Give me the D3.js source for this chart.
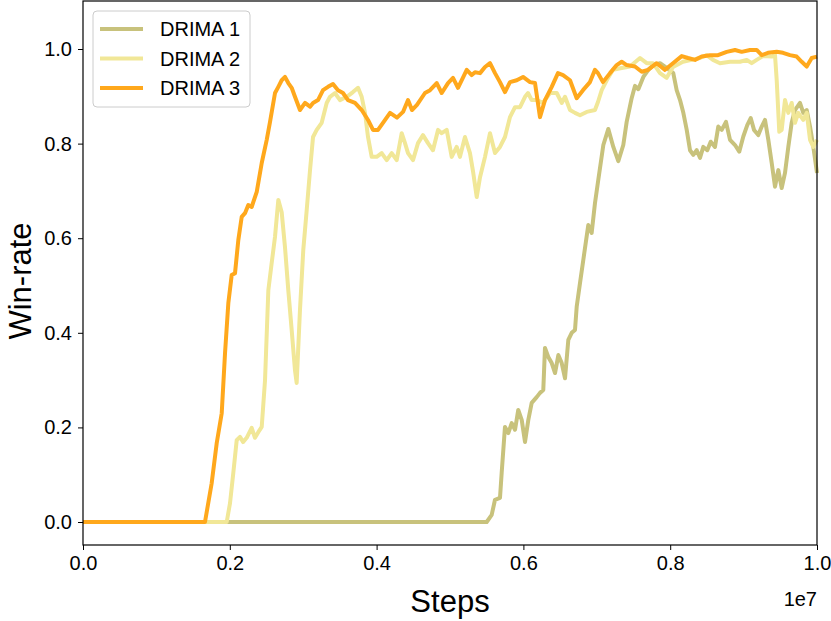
<!DOCTYPE html>
<html>
<head>
<meta charset="utf-8">
<script src="https://cdn.jsdelivr.net/npm/d3@7"></script>
<style>
  body { margin: 0; background: #fff; }
  text { font-family: "Liberation Sans", Arial, sans-serif; fill: #000; }
</style>
</head>
<body>
<div id="chart"></div>
<script>
// frame size
const FRAME_WIDTH = 831;
const FRAME_HEIGHT = 621;
const MARGINS = {left: 83, right: 14, top: 1, bottom: 76};
const VIS_WIDTH = FRAME_WIDTH - MARGINS.left - MARGINS.right;
const VIS_HEIGHT = FRAME_HEIGHT - MARGINS.top - MARGINS.bottom;

// data: steps in millions, win-rate
const seriesNames = ["DRIMA 1", "DRIMA 2", "DRIMA 3"];
const seriesColors = ["#c8c27c", "#f1e797", "#ffa81c"];

const drima1Steps = [0, 5.500, 5.568, 5.613, 5.681, 5.704, 5.749, 5.794, 5.841, 5.886, 5.930, 5.977, 6.022, 6.067, 6.113, 6.181, 6.226, 6.271, 6.294, 6.339, 6.386, 6.431, 6.476, 6.522, 6.567, 6.612, 6.658, 6.703, 6.726, 6.771, 6.816, 6.884, 6.930, 6.975, 7.020, 7.089, 7.157, 7.225, 7.293, 7.361, 7.407, 7.475, 7.520, 7.566, 7.634, 7.702, 7.770, 7.861, 7.952, 8.042, 8.088, 8.134, 8.179, 8.225, 8.270, 8.315, 8.361, 8.406, 8.451, 8.505, 8.552, 8.610, 8.655, 8.702, 8.760, 8.815, 8.883, 8.941, 8.996, 9.050, 9.097, 9.142, 9.200, 9.247, 9.292, 9.337, 9.383, 9.428, 9.473, 9.519, 9.564, 9.609, 9.655, 9.700, 9.768, 9.813, 9.860, 9.905, 9.950, 10.0];
const drima1Rate = [0, 0, 0.015, 0.047, 0.051, 0.104, 0.201, 0.188, 0.209, 0.195, 0.237, 0.216, 0.169, 0.216, 0.252, 0.264, 0.273, 0.279, 0.368, 0.349, 0.336, 0.315, 0.353, 0.336, 0.304, 0.385, 0.400, 0.406, 0.455, 0.505, 0.554, 0.628, 0.611, 0.674, 0.723, 0.797, 0.831, 0.793, 0.763, 0.797, 0.846, 0.896, 0.922, 0.915, 0.941, 0.956, 0.966, 0.970, 0.960, 0.949, 0.913, 0.892, 0.865, 0.829, 0.786, 0.776, 0.786, 0.770, 0.793, 0.786, 0.804, 0.793, 0.836, 0.829, 0.846, 0.808, 0.797, 0.783, 0.815, 0.839, 0.854, 0.829, 0.818, 0.836, 0.850, 0.808, 0.759, 0.709, 0.744, 0.706, 0.738, 0.793, 0.844, 0.871, 0.886, 0.865, 0.871, 0.836, 0.793, 0.738];

const drima2Steps = [0, 1.958, 2.003, 2.048, 2.094, 2.139, 2.180, 2.230, 2.298, 2.343, 2.388, 2.435, 2.480, 2.525, 2.571, 2.616, 2.661, 2.707, 2.752, 2.797, 2.843, 2.888, 2.911, 2.956, 3.001, 3.048, 3.093, 3.134, 3.184, 3.252, 3.320, 3.365, 3.433, 3.501, 3.593, 3.678, 3.747, 3.797, 3.842, 3.883, 3.933, 4.001, 4.069, 4.138, 4.206, 4.274, 4.342, 4.387, 4.428, 4.496, 4.564, 4.632, 4.700, 4.768, 4.837, 4.887, 4.955, 5.023, 5.091, 5.136, 5.204, 5.272, 5.317, 5.364, 5.409, 5.477, 5.545, 5.613, 5.681, 5.749, 5.817, 5.886, 5.954, 6.022, 6.063, 6.113, 6.181, 6.267, 6.362, 6.454, 6.522, 6.567, 6.635, 6.703, 6.771, 6.862, 6.975, 7.016, 7.067, 7.135, 7.221, 7.339, 7.452, 7.589, 7.680, 7.766, 7.861, 7.952, 8.038, 8.174, 8.293, 8.406, 8.497, 8.583, 8.678, 8.815, 8.951, 9.042, 9.110, 9.178, 9.264, 9.383, 9.428, 9.451, 9.486, 9.519, 9.564, 9.609, 9.655, 9.700, 9.745, 9.813, 9.860, 9.905, 9.950, 10.0];
const drima2Rate = [0, 0, 0.040, 0.104, 0.173, 0.180, 0.169, 0.178, 0.199, 0.178, 0.190, 0.201, 0.300, 0.490, 0.548, 0.603, 0.681, 0.655, 0.581, 0.490, 0.406, 0.321, 0.294, 0.448, 0.575, 0.660, 0.744, 0.814, 0.829, 0.844, 0.886, 0.899, 0.907, 0.892, 0.899, 0.909, 0.918, 0.899, 0.865, 0.814, 0.772, 0.772, 0.780, 0.765, 0.780, 0.765, 0.822, 0.801, 0.780, 0.765, 0.801, 0.818, 0.801, 0.786, 0.829, 0.822, 0.829, 0.772, 0.793, 0.772, 0.814, 0.780, 0.738, 0.687, 0.729, 0.772, 0.822, 0.780, 0.793, 0.814, 0.856, 0.877, 0.877, 0.899, 0.907, 0.892, 0.892, 0.886, 0.907, 0.907, 0.886, 0.899, 0.871, 0.865, 0.860, 0.867, 0.871, 0.888, 0.913, 0.934, 0.956, 0.960, 0.963, 0.981, 0.970, 0.970, 0.949, 0.939, 0.962, 0.973, 0.977, 0.981, 0.987, 0.977, 0.970, 0.973, 0.973, 0.977, 0.970, 0.977, 0.985, 0.984, 0.987, 0.934, 0.825, 0.829, 0.892, 0.865, 0.886, 0.844, 0.865, 0.850, 0.865, 0.808, 0.793, 0.808];

const drima3Steps = [0, 1.662, 1.753, 1.822, 1.890, 1.935, 1.980, 2.026, 2.071, 2.116, 2.162, 2.207, 2.252, 2.298, 2.367, 2.435, 2.503, 2.548, 2.616, 2.661, 2.707, 2.752, 2.797, 2.843, 2.888, 2.956, 3.025, 3.093, 3.134, 3.202, 3.270, 3.338, 3.406, 3.474, 3.542, 3.610, 3.706, 3.797, 3.883, 3.951, 4.019, 4.087, 4.183, 4.278, 4.360, 4.428, 4.482, 4.550, 4.659, 4.728, 4.819, 4.887, 4.973, 5.041, 5.109, 5.228, 5.296, 5.341, 5.409, 5.477, 5.545, 5.613, 5.681, 5.749, 5.817, 5.909, 5.995, 6.090, 6.158, 6.226, 6.294, 6.386, 6.471, 6.540, 6.635, 6.726, 6.812, 6.907, 6.975, 7.016, 7.084, 7.180, 7.271, 7.339, 7.407, 7.520, 7.612, 7.698, 7.816, 7.929, 8.038, 8.157, 8.243, 8.338, 8.429, 8.542, 8.651, 8.770, 8.883, 8.974, 9.087, 9.178, 9.247, 9.332, 9.451, 9.537, 9.632, 9.723, 9.792, 9.860, 9.928, 10.0];
const drima3Rate = [0, 0, 0.082, 0.167, 0.230, 0.357, 0.463, 0.522, 0.526, 0.596, 0.645, 0.653, 0.670, 0.666, 0.698, 0.759, 0.808, 0.846, 0.907, 0.920, 0.934, 0.941, 0.928, 0.918, 0.899, 0.871, 0.886, 0.878, 0.886, 0.892, 0.913, 0.920, 0.926, 0.913, 0.907, 0.892, 0.886, 0.871, 0.850, 0.829, 0.829, 0.844, 0.865, 0.855, 0.867, 0.892, 0.871, 0.882, 0.907, 0.913, 0.928, 0.907, 0.928, 0.939, 0.918, 0.956, 0.945, 0.951, 0.949, 0.962, 0.970, 0.949, 0.930, 0.909, 0.930, 0.934, 0.941, 0.930, 0.928, 0.856, 0.892, 0.920, 0.949, 0.945, 0.934, 0.896, 0.913, 0.930, 0.956, 0.949, 0.930, 0.949, 0.966, 0.973, 0.966, 0.963, 0.952, 0.956, 0.970, 0.956, 0.970, 0.985, 0.981, 0.977, 0.984, 0.987, 0.987, 0.994, 0.998, 0.994, 0.998, 0.998, 0.987, 0.992, 0.994, 0.992, 0.987, 0.984, 0.973, 0.963, 0.981, 0.984];

const xTicks = [0, 0.2, 0.4, 0.6, 0.8, 1.0];
const yTicks = [0, 0.2, 0.4, 0.6, 0.8, 1.0];

const allSteps = [drima1Steps, drima2Steps, drima3Steps];
const allRates = [drima1Rate, drima2Rate, drima3Rate];

const FRAME = d3.select("#chart")
                .append("svg")
                  .attr("width", FRAME_WIDTH)
                  .attr("height", FRAME_HEIGHT);

const x = d3.scaleLinear()
            .domain([0, 1e7])
            .range([MARGINS.left, MARGINS.left + VIS_WIDTH]);

const y = d3.scaleLinear()
            .domain([-0.0486, 1.1015])
            .range([MARGINS.top + VIS_HEIGHT, MARGINS.top]);

// lines, drawn in legend order so DRIMA 3 sits on top
const line = d3.line()
               .x((d) => x(d[0] * 1e6))
               .y((d) => y(d[1]));

allSteps.forEach((steps, i) => {
  const pts = steps.map((s, j) => [s, allRates[i][j]]);
  FRAME.append("path")
       .datum(pts)
       .attr("fill", "none")
       .attr("stroke", seriesColors[i])
       .attr("stroke-width", 4)
       .attr("stroke-linejoin", "round")
       .attr("d", line);
});

// axes
const xAxis = FRAME.append("g")
     .attr("transform", "translate(0," + (MARGINS.top + VIS_HEIGHT) + ")")
     .call(d3.axisBottom(x).tickValues(xTicks.map((t) => t * 1e7))
             .tickFormat((d) => (d / 1e7).toFixed(1))
             .tickSize(5).tickPadding(6));

const yAxis = FRAME.append("g")
     .attr("transform", "translate(" + MARGINS.left + ",0)")
     .call(d3.axisLeft(y).tickValues(yTicks)
             .tickFormat((d) => d.toFixed(1))
             .tickSize(5).tickPadding(6));

[xAxis, yAxis].forEach((g) => {
  g.select(".domain").remove();
  g.selectAll("line").attr("stroke", "#000").attr("stroke-width", 1);
  g.selectAll("text").attr("font-size", 20).attr("font-family", "Liberation Sans, Arial, sans-serif");
});

// frame box
FRAME.append("rect")
     .attr("x", MARGINS.left)
     .attr("y", MARGINS.top)
     .attr("width", VIS_WIDTH)
     .attr("height", VIS_HEIGHT)
     .attr("fill", "none")
     .attr("stroke", "#000")
     .attr("stroke-width", 1.2);

// axis labels
FRAME.append("text")
     .attr("x", MARGINS.left + VIS_WIDTH / 2)
     .attr("y", 612)
     .attr("text-anchor", "middle")
     .attr("font-size", 31)
     .text("Steps");

FRAME.append("text")
     .attr("transform", "translate(31,281) rotate(-90)")
     .attr("text-anchor", "middle")
     .attr("font-size", 31)
     .text("Win-rate");

FRAME.append("text")
     .attr("x", MARGINS.left + VIS_WIDTH)
     .attr("y", 606)
     .attr("text-anchor", "end")
     .attr("font-size", 20)
     .text("1e7");

// legend
const legend = FRAME.append("g").attr("transform", "translate(93,11)");

legend.append("rect")
      .attr("width", 157)
      .attr("height", 96)
      .attr("rx", 4)
      .attr("fill", "#fff")
      .attr("fill-opacity", 0.8)
      .attr("stroke", "#cccccc");

seriesNames.forEach((name, i) => {
  const ly = 18 + i * 29.5;
  legend.append("line")
        .attr("x1", 7).attr("x2", 50)
        .attr("y1", ly).attr("y2", ly)
        .attr("stroke", seriesColors[i])
        .attr("stroke-width", 4);
  legend.append("text")
        .attr("x", 67)
        .attr("y", ly + 7)
        .attr("font-size", 20)
        .attr("fill", "#333")
        .text(name);
});
</script>
</body>
</html>
